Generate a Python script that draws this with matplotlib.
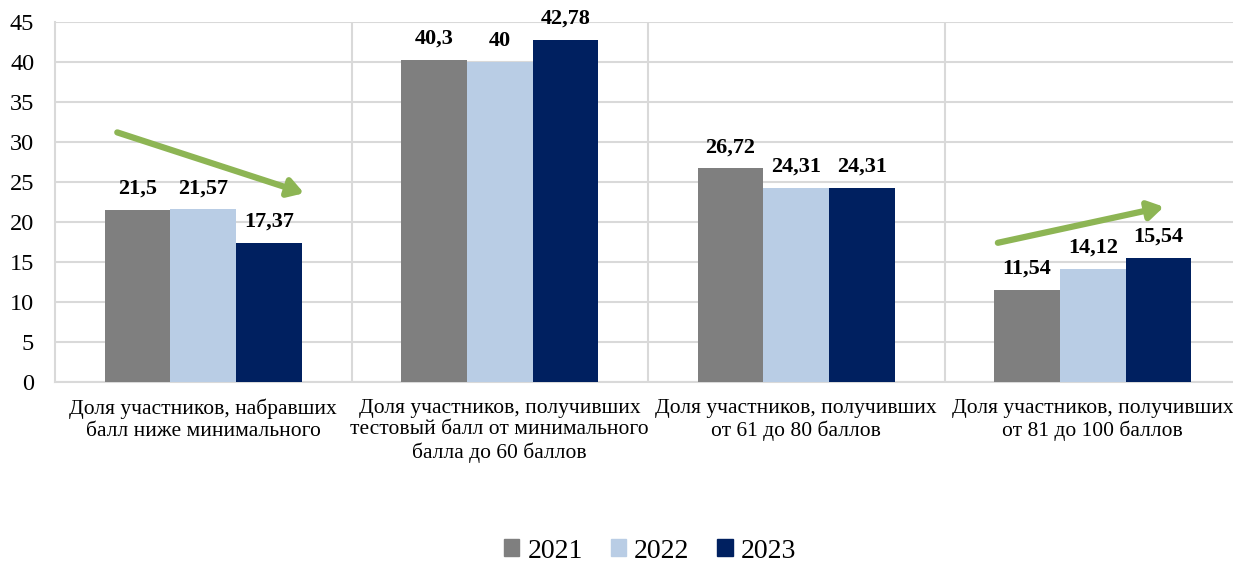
import numpy as np
import matplotlib.pyplot as plt
from matplotlib.patches import Patch

plt.rcParams['font.family'] = ['Liberation Serif', 'DejaVu Serif']

categories = [
    'Доля участников, набравших\nбалл ниже минимального',
    'Доля участников, получивших\nтестовый балл от минимального\nбалла до 60 баллов',
    'Доля участников, получивших\nот 61 до 80 баллов',
    'Доля участников, получивших\nот 81 до 100 баллов',
]
years = ['2021', '2022', '2023']
values_2021 = [21.5, 40.3, 26.72, 11.54]
values_2022 = [21.57, 40, 24.31, 14.12]
values_2023 = [17.37, 42.78, 24.31, 15.54]

colors = ['#7f7f7f', '#b9cde5', '#002060']
grid_color = '#d9d9d9'
arrow_color = '#8db554'

fig = plt.figure(figsize=(12.33, 5.65), dpi=100)
ax = fig.add_axes([55 / 1233, 1 - 382 / 565, 1186 / 1233, 360 / 565])

x = np.arange(len(categories))
width = 0.222
series = [values_2021, values_2022, values_2023]

for i, (vals, c, yr) in enumerate(zip(series, colors, years)):
    pos = x + (i - 1) * width
    ax.bar(pos, vals, width, color=c, label=yr, zorder=3)
    for px, v in zip(pos, vals):
        txt = f'{v:g}'.replace('.', ',')
        ax.annotate(txt, (px, v), xytext=(0, 11.5),
                    textcoords='offset points', ha='center', va='baseline',
                    fontsize=16, fontweight='bold', zorder=4)

# trend arrows
arrow_style = dict(arrowstyle='-|>,head_length=0.9,head_width=0.55',
                   color=arrow_color, lw=4.5, shrinkA=0, shrinkB=0)
ax.annotate('', xy=(0.34, 23.6), xytext=(-0.29, 31.2),
            arrowprops=arrow_style, zorder=5)
ax.annotate('', xy=(3.24, 21.9), xytext=(2.68, 17.4),
            arrowprops=arrow_style, zorder=5)

ax.set_xlim(-0.5, len(categories) - 0.5)
ax.set_ylim(0, 45)
ax.set_yticks(range(0, 46, 5))
ax.set_xticks(x)
ax.set_xticklabels(categories, fontsize=15.5, linespacing=1.2)
ax.set_xticks(x[:-1] + 0.5, minor=True)
ax.tick_params(axis='both', which='both', length=0)
ax.tick_params(axis='y', labelsize=17.5, pad=15)
ax.tick_params(axis='x', pad=12)

ax.grid(axis='y', color=grid_color, lw=1.5, zorder=0)
ax.grid(axis='x', which='minor', color=grid_color, lw=1.5, zorder=0)
for side in ['top', 'right']:
    ax.spines[side].set_visible(False)
for side in ['left', 'bottom']:
    ax.spines[side].set_color(grid_color)
    ax.spines[side].set_linewidth(1.5)

handles = [Patch(color=c, label=yr) for c, yr in zip(colors, years)]
fig.legend(handles=handles, loc='center', bbox_to_anchor=(650 / 1233, 1 - 551 / 565),
           ncol=3, frameon=False, fontsize=20, handlelength=0.55, handleheight=0.55,
           handletextpad=0.3, columnspacing=1.0, borderpad=0.1)

fig.savefig('out.png', dpi=100)
